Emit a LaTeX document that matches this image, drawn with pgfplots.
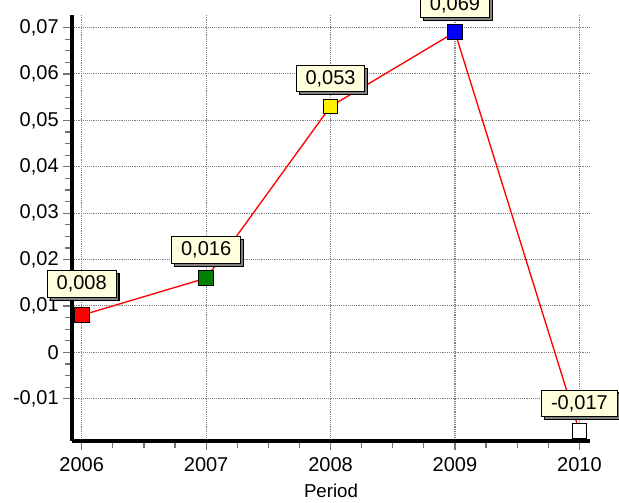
\documentclass[border=0pt]{standalone}
\usepackage{fontspec}
\setmainfont{Liberation Sans}
\usepackage{pgfplots}
\pgfplotsset{compat=1.18}
\usetikzlibrary{shadows}

\definecolor{boxfill}{RGB}{255,255,222}
\definecolor{mgreen}{RGB}{0,128,0}

\pgfplotsset{
  pt/.style={
    only marks, mark=square*, mark size=5.5pt,
    mark options={draw=black, line width=0.7pt, fill=#1},
    point meta=explicit symbolic,
    nodes near coords,
    every node near coord/.style={
      anchor=south, yshift=10.5pt, text=black,
      fill=boxfill, draw=black, line width=0.8pt,
      font=\fontsize{15}{18}\selectfont,
      inner xsep=7pt, minimum height=20pt,
      drop shadow={shadow xshift=2.2pt, shadow yshift=-2.2pt, fill=gray, opacity=1}
    }
  }
}

\begin{document}
\begin{tikzpicture}
\path[use as bounding box] (-54pt,-46.5pt) rectangle (410.25pt,330.75pt);
\clip (-54pt,-46.5pt) rectangle (410.25pt,330.75pt);
\begin{axis}[
  at={(0,0)}, anchor=south west,
  scale only axis,
  width=388.5pt, height=319.5pt,
  xmin=2005.922, xmax=2010.085,
  ymin=-0.0191, ymax=0.0727,
  axis lines=left,
  axis line style={-, line width=2.4pt, black},
  clip=false,
  scaled y ticks=false,
  xtick={2006,2007,2008,2009,2010},
  xticklabels={2006,2007,2008,2009,2010},
  ytick={-0.01,0,0.01,0.02,0.03,0.04,0.05,0.06,0.07},
  yticklabels={{-0,01},{0},{0,01},{0,02},{0,03},{0,04},{0,05},{0,06},{0,07}},
  minor x tick num=3,
  minor y tick num=3,
  tick align=outside,
  major tick length=6.5pt,
  minor tick length=5pt,
  tick style={black!55, line width=0.9pt},
  grid=major,
  major grid style={black!50, densely dotted, line width=0.8pt},
  tick label style={font=\fontsize{15}{18}\selectfont},
  xticklabel style={yshift=-2pt},
  xlabel={Period},
  xlabel style={font=\fontsize{14}{17}\selectfont, yshift=-3pt},
]
\addplot[red, line width=1pt, mark=none] coordinates {
  (2006,0.008) (2007,0.016) (2008,0.053) (2009,0.069) (2010,-0.017)
};
\addplot[pt=red, every node near coord/.append style={yshift=2.5pt}] coordinates {(2006,0.008) [0,008]};
\addplot[pt=mgreen] coordinates {(2007,0.016) [0,016]};
\addplot[pt=yellow] coordinates {(2008,0.053) [0,053]};
\addplot[pt=blue] coordinates {(2009,0.069) [0,069]};
\addplot[pt=white] coordinates {(2010,-0.017) [-0,017]};
\end{axis}
\end{tikzpicture}
\end{document}
